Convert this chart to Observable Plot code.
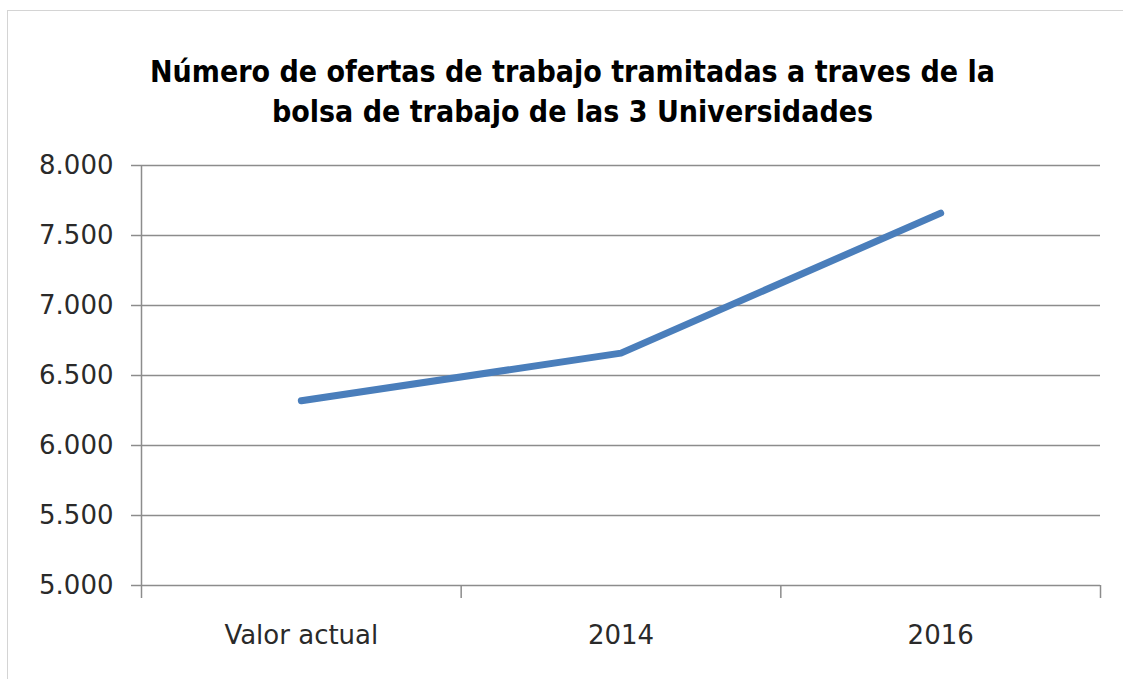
<!DOCTYPE html>
<html>
<head>
<meta charset="utf-8">
<script src="https://cdn.jsdelivr.net/npm/d3@7"></script>
<script src="https://cdn.jsdelivr.net/npm/@observablehq/plot@0.6"></script>
<style>
  html, body { margin: 0; padding: 0; background: #fff; overflow: hidden; }
  #frame {
    position: absolute; left: 7px; top: 10px; width: 1130px; height: 700px;
    border-left: 1.5px solid #d4d4d4; border-top: 1.5px solid #d4d4d4; box-sizing: border-box;
  }
  #title {
    position: absolute; left: 0; top: 52px; width: 1145px; text-align: center;
    font-family: "Liberation Sans Narrow", "DejaVu Sans Condensed", "Roboto Condensed", sans-serif;
    font-stretch: condensed; font-weight: bold; font-size: 30px; line-height: 40px; color: #000;
  }
  #chart { position: absolute; left: 8px; top: 150px; }
</style>
</head>
<body>
<div id="frame"></div>
<div id="title">Número de ofertas de trabajo tramitadas a traves de la<br>bolsa de trabajo de las 3 Universidades</div>
<div id="chart"></div>
<script>
const categories = ["Valor actual", "2014", "2016"];
const values = [6320, 6660, 7660];
const yTicks = [5000, 5500, 6000, 6500, 7000, 7500, 8000];

const data = categories.map((c, i) => ({i, c, v: values[i]}));
const boundaries = d3.range(categories.length + 1).map(k => k - 0.5);
const fmt = d3.formatLocale({decimal: ",", thousands: ".", grouping: [3], currency: ["", ""]}).format(",d");

const font = "DejaVu Sans, Verdana, sans-serif";
const gridColor = "#8c8c8c";

const plot = Plot.plot({
  width: 1115,
  height: 529,
  marginTop: 15,
  marginBottom: 94,
  marginLeft: 133,
  marginRight: 23,
  style: {fontFamily: font, fontSize: "26px", color: "#2a2a2a", background: "transparent"},
  x: {type: "linear", domain: [-0.5, categories.length - 0.5], label: null},
  y: {domain: [5000, 8000], label: null},
  marks: [
    Plot.gridY(yTicks, {stroke: gridColor, strokeOpacity: 1, strokeWidth: 1.5}),
    Plot.axisY(yTicks, {label: null, tickSize: 10, tickPadding: 18, stroke: gridColor, strokeWidth: 1.5, tickFormat: fmt, fill: "#2a2a2a", fontSize: 26}),
    Plot.ruleX([-0.5], {y1: 5000, y2: 8000, stroke: gridColor, strokeWidth: 1.5}),
    Plot.axisX(boundaries, {label: null, tickSize: 13, tickFormat: () => "", stroke: gridColor, strokeWidth: 1.5}),
    Plot.axisX(d3.range(categories.length), {label: null, tickSize: 0, tickPadding: 40, tickFormat: i => categories[i], fill: "#2a2a2a", fontSize: 26}),
    Plot.lineY(data, {x: "i", y: "v", stroke: "#4a7ebb", strokeWidth: 7, strokeLinecap: "round", strokeLinejoin: "round"})
  ]
});
document.getElementById("chart").appendChild(plot);
</script>
</body>
</html>
